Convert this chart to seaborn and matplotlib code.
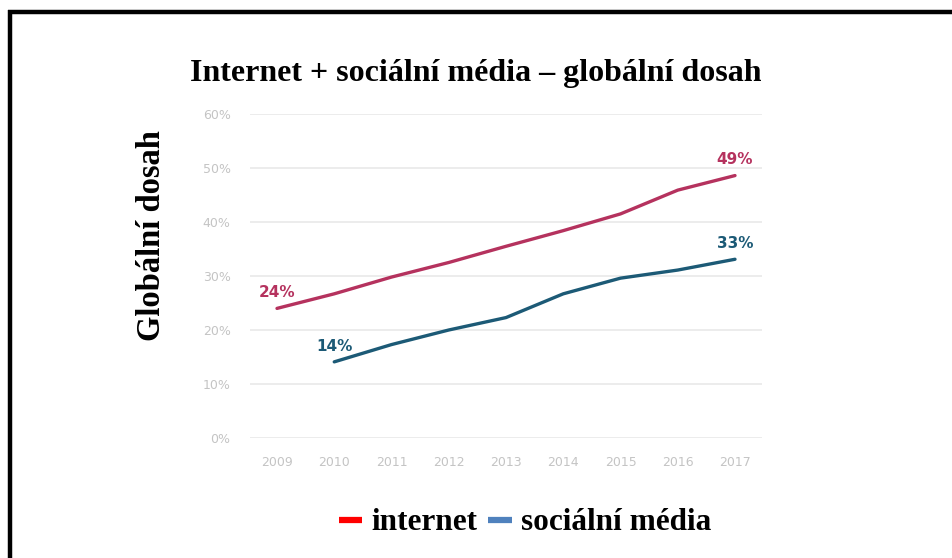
import numpy as np
import pandas as pd
import matplotlib
matplotlib.use("Agg")
import matplotlib.pyplot as plt
import seaborn as sns
from matplotlib.lines import Line2D

years = [2009, 2010, 2011, 2012, 2013, 2014, 2015, 2016, 2017]
internet = [24.0, 26.7, 29.8, 32.5, 35.5, 38.4, 41.5, 45.9, 48.6]
social = [np.nan, 14.1, 17.3, 20.0, 22.3, 26.7, 29.6, 31.1, 33.1]
series_names = ["internet", "sociální média"]
yticks = [0, 10, 20, 30, 40, 50, 60]
ytick_labels = ["0%", "10%", "20%", "30%", "40%", "50%", "60%"]
title = "Internet + sociální média – globální dosah"
ylabel = "Globální dosah"

line_colors = {"internet": "#b5325e", "sociální média": "#1c5a76"}
legend_colors = {"internet": "#ff0000", "sociální média": "#4f81bd"}

df = pd.DataFrame({
    "rok": years * 2,
    "dosah": internet + social,
    "serie": [series_names[0]] * len(years) + [series_names[1]] * len(years),
}).dropna()

sns.set_theme(style="white")
plt.rcParams["font.family"] = ["DejaVu Sans"]

fig = plt.figure(figsize=(9.52, 5.58), dpi=100)
ax = fig.add_axes([250 / 952, 1 - 438 / 558, 512 / 952, 324 / 558])

sns.lineplot(data=df, x="rok", y="dosah", hue="serie", palette=line_colors,
             linewidth=2.4, ax=ax, legend=False)

ax.set_xlim(2009 - 27 / 57.25, 2017 + 27 / 57.25)
ax.set_ylim(0, 60)
ax.set_yticks(yticks)
ax.set_yticklabels(ytick_labels)
ax.set_xticks(years)
ax.set_xticklabels([str(y) for y in years])
ax.tick_params(axis="both", length=0, labelsize=9, labelcolor="#c4c4c4")
ax.tick_params(axis="y", pad=14)
ax.tick_params(axis="x", pad=13)
ax.yaxis.grid(True, color="#ebebeb", linewidth=1.3)
ax.xaxis.grid(False)
for s in ax.spines.values():
    s.set_visible(False)
ax.set_xlabel("")
ax.set_ylabel("")

# end-point labels
lab_kw = dict(fontsize=11, fontweight="bold", ha="center", va="bottom")
ax.text(years[0], internet[0] + 1.5, f"{internet[0]:.0f}%", color=line_colors["internet"], **lab_kw)
ax.text(years[-1], internet[-1] + 1.5, "49%", color=line_colors["internet"], **lab_kw)
ax.text(years[1], social[1] + 1.5, f"{social[1]:.0f}%", color=line_colors["sociální média"], **lab_kw)
ax.text(years[-1], social[-1] + 1.5, f"{social[-1]:.0f}%", color=line_colors["sociální média"], **lab_kw)

serif = ["Liberation Serif", "DejaVu Serif"]
fig.text(476 / 952, 1 - 73 / 558, title, ha="center", va="center", color="black",
         fontsize=23, fontweight="bold", family=serif)
fig.text(151 / 952, 1 - 236 / 558, ylabel, ha="center", va="center", rotation=90,
         color="black", fontsize=23.5, fontweight="bold", family=serif)

handles = [Line2D([0], [0], color=legend_colors[n], linewidth=4.5, solid_capstyle="butt")
           for n in series_names]
leg = fig.legend(handles, series_names, loc="center", bbox_to_anchor=(525 / 952, 1 - 523 / 558),
                 ncol=2, frameon=False, handlelength=0.75, handletextpad=0.3, columnspacing=0.35,
                 prop={"family": serif, "weight": "bold", "size": 22.5})
for t in leg.get_texts():
    t.set_color("black")

# frame: top and left borders
fig.add_artist(Line2D([8 / 952, 1.0], [1 - 12 / 558, 1 - 12 / 558], color="black",
                      linewidth=3.2, solid_capstyle="butt", transform=fig.transFigure))
fig.add_artist(Line2D([10 / 952, 10 / 952], [0, 1 - 10 / 558], color="black",
                      linewidth=3.2, solid_capstyle="butt", transform=fig.transFigure))

fig.savefig("out.png", dpi=100, facecolor="white")
